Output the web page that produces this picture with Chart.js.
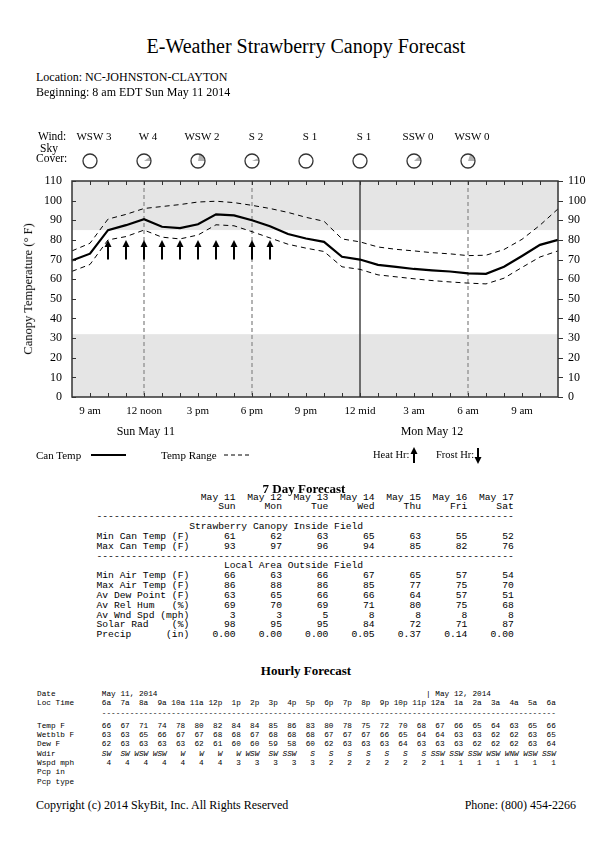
<!DOCTYPE html>
<html>
<head>
<meta charset="utf-8">
<script src="https://cdn.jsdelivr.net/npm/chart.js@4.4.1/dist/chart.umd.min.js"></script>
<style>
  body { margin: 0; background: #fff; }
  #page { position: relative; width: 612px; height: 864px; overflow: hidden; font-family: "Liberation Serif", serif; color: #000; }
  .t { position: absolute; white-space: nowrap; }
  pre { position: absolute; margin: 0; font-family: "Liberation Mono", monospace; color: #000; }
  #chartBox { position: absolute; left: 0; top: 120px; width: 612px; height: 322px; }
</style>
</head>
<body>
<div id="page">
  <div id="chartBox"><canvas id="canopyChart" width="612" height="322"></canvas></div>
  <svg style="position:absolute;left:0;top:440px" width="612" height="30">
    <line x1="91" y1="15" x2="126" y2="15" stroke="#000" stroke-width="2"/>
    <line x1="224" y1="15" x2="249" y2="15" stroke="#000" stroke-width="1" stroke-dasharray="4,3"/>
    <line x1="414" y1="23" x2="414" y2="13" stroke="#000" stroke-width="2"/>
    <polygon points="414,7 410.5,14 417.5,14" fill="#000"/>
    <line x1="478" y1="8" x2="478" y2="18" stroke="#000" stroke-width="2"/>
    <polygon points="478,24 474.5,17 481.5,17" fill="#000"/>
  </svg>
  <pre id="dayTable" style="left:96.5px;top:492.5px;font-size:9.67px;line-height:9.85px"></pre>
  <pre id="hourHead" style="left:37px;top:689.7px;font-size:7.73px;line-height:9.5px"></pre>
  <pre id="hourBody" style="left:37px;top:721.7px;font-size:7.73px;line-height:9.35px"></pre>
</div>
<script>
// canopy chart, hourly from 8 am Sun May 11 to 11 am Mon May 12
const hours = ['8a','9a','10a','11a','12p','1p','2p','3p','4p','5p','6p','7p','8p','9p','10p','11p',
               '12a','1a','2a','3a','4a','5a','6a','7a','8a','9a','10a','11a'];
const xTickText = ['','9 am','','','12 noon','','','3 pm','','','6 pm','','','9 pm','','','12 mid',
                   '','','3 am','','','6 am','','','9 am','',''];
const canTemp = [69.5,73,85,87.5,90.5,86.7,86,88,93,92.5,90,87,83,80.7,79,71.4,70,67.3,66.3,65.2,
                 64.5,63.9,63,62.7,66.3,71.8,77.5,80];
const rangeHi = [74.4,78.3,90.6,93,96,97,98,99.3,99.7,99,97.6,96,94,91.5,89.5,80.5,79,76.4,75.2,74.4,
                 73.5,72.9,72,72.2,75.1,80.3,87.5,95.8];
const rangeLo = [64,67.5,80,81.7,85,81.4,80.5,82.5,87.7,87.2,84.2,81,77.8,75.8,74.1,66.3,65,62.2,61.2,
                 60.2,59.3,58.6,58,57.6,60.5,66,71.3,74.4];
const heatHr  = [0,0,1,1,1,1,1,1,1,1,1,1,0,0,0,0,0,0,0,0,0,0,0,0,0,0,0,0];
const frostHr = [0,0,0,0,0,0,0,0,0,0,0,0,0,0,0,0,0,0,0,0,0,0,0,0,0,0,0,0];
const bands = [[85, 110], [0, 32]];
const dashedHours = [4, 10, 22];
const solidHours = [16];

// wind and sky cover every 3 hours
const windIdx  = [1, 4, 7, 10, 13, 16, 19, 22];
const windText = ['WSW 3','W 4','WSW 2','S 2','S 1','S 1','SSW 0','WSW 0'];
const skyCover = [0, 10, 22, 7, 0, 0, 12, 20];
const dayIdx   = [4.1, 20];
const dayText  = ['Sun May 11', 'Mon May 12'];

// 7 day forecast
const dayDates = ['May 11','May 12','May 13','May 14','May 15','May 16','May 17'];
const dayNames = ['Sun','Mon','Tue','Wed','Thu','Fri','Sat'];
const minCan   = [61,62,63,65,63,55,52];
const maxCan   = [93,97,96,94,85,82,76];
const minAir   = [66,63,66,67,65,57,54];
const maxAir   = [86,88,86,85,77,75,70];
const dewPoint = [63,65,66,66,64,57,51];
const relHum   = [69,70,69,71,80,75,68];
const wndSpd   = [3,3,5,8,8,8,8];
const solarRad = [98,95,95,84,72,71,87];
const precip   = ['0.00','0.00','0.00','0.05','0.37','0.14','0.00'];

// hourly forecast, 6a May 11 to 6a May 12
const hrTimes = ['6a','7a','8a','9a','10a','11a','12p','1p','2p','3p','4p','5p','6p','7p','8p','9p',
                 '10p','11p','12a','1a','2a','3a','4a','5a','6a'];
const hrTemp  = [66,67,71,74,78,80,82,84,84,85,86,83,80,78,75,72,70,68,67,66,65,64,63,65,66];
const hrWet   = [63,63,65,66,67,67,68,68,67,68,68,68,67,67,67,66,65,64,64,63,63,62,62,63,65];
const hrDew   = [62,63,63,63,63,62,61,60,60,59,58,60,62,63,63,63,64,63,63,63,62,62,62,63,64];
const hrWdir  = ['SW','SW','WSW','WSW','W','W','W','W','WSW','SW','SSW','S','S','S','S','S','S','S',
                 'SSW','SSW','SSW','WSW','WNW','WSW','SSW'];
const hrWspd  = [4,4,4,4,4,4,4,3,3,3,3,3,2,2,2,2,2,2,1,1,1,1,1,1,1];

const page = document.getElementById('page');
function txt(s, x, cy, size, align, extra) {
  const d = document.createElement('div');
  d.className = 't';
  d.textContent = s;
  d.style.fontSize = size + 'px';
  d.style.lineHeight = (size * 1.107) + 'px';
  d.style.top = (cy - 0.59 * size) + 'px';
  if (align == 'c') { d.style.left = (x - 200) + 'px'; d.style.width = '400px'; d.style.textAlign = 'center'; }
  else if (align == 'r') { d.style.right = (612 - x) + 'px'; }
  else d.style.left = x + 'px';
  if (extra) Object.assign(d.style, extra);
  page.appendChild(d);
  return d;
}

txt('E-Weather Strawberry Canopy Forecast', 306, 47, 20, 'c');
txt('Location:  NC-JOHNSTON-CLAYTON', 36, 78, 12);
txt('Beginning: 8 am EDT Sun May 11 2014', 36, 93, 12);
txt('Wind:', 38, 137, 11.5);
txt('Sky', 40, 148.5, 11.5);
txt('Cover:', 36, 159, 11.5);
txt('Canopy Temperature (° F)', 29, 289, 12.5, 'c', {transform: 'rotate(-90deg)'});
txt('Can Temp', 36, 455, 11);
txt('Temp Range', 161, 455, 11);
txt('Heat  Hr:', 373, 455, 10.5);
txt('Frost Hr:', 436, 455, 10.5);
txt('7 Day Forecast', 304, 490, 13, 'c', {fontWeight: 'bold'});
txt('Hourly Forecast', 306, 672, 13, 'c', {fontWeight: 'bold'});
txt('Copyright (c) 2014 SkyBit, Inc. All Rights Reserved', 36, 806, 12);
txt('Phone: (800) 454-2266', 576, 806, 12, 'r');

// monospace tables
function row(label, vals, w) { return label.padEnd(16) + vals.map(v => String(v).padStart(w)).join(''); }
const dash72 = '-'.repeat(72);
document.getElementById('dayTable').textContent = [
  row('', dayDates, 8),
  row('', dayNames, 8),
  dash72,
  ' '.repeat(16) + 'Strawberry Canopy Inside Field',
  row('Min Can Temp (F)', minCan, 8),
  row('Max Can Temp (F)', maxCan, 8),
  dash72,
  ' '.repeat(22) + 'Local Area Outside Field',
  row('Min Air Temp (F)', minAir, 8),
  row('Max Air Temp (F)', maxAir, 8),
  row('Av Dew Point (F)', dewPoint, 8),
  row('Av Rel Hum   (%)', relHum, 8),
  row('Av Wnd Spd (mph)', wndSpd, 8),
  row('Solar Rad    (%)', solarRad, 8),
  row('Precip      (in)', precip, 8)
].join('\n');

function hrow(label, vals) { return label.padEnd(12) + vals.map(v => String(v).padStart(4)).join(''); }
document.getElementById('hourHead').textContent = [
  ('Date'.padEnd(14) + 'May 11, 2014').padEnd(84) + '| May 12, 2014',
  hrow('Loc Time', hrTimes),
  ' '.repeat(14) + '-'.repeat(98)
].join('\n');
const hb = document.getElementById('hourBody');
hb.innerHTML = [
  hrow('Temp F', hrTemp),
  hrow('Wetblb F', hrWet),
  hrow('Dew F', hrDew),
  'Wdir'.padEnd(12) + '<i>' + hrWdir.map(v => v.padStart(4)).join('') + '</i>',
  hrow('Wspd mph', hrWspd),
  'Pcp in',
  'Pcp type'
].join('\n');

const serif = '"Liberation Serif", serif';

var chartDecor = {
  id: 'chartDecor',
  beforeDatasetsDraw(chart) {
    const ctx = chart.ctx, a = chart.chartArea, x = chart.scales.x, y = chart.scales.y;
    ctx.save();
    ctx.fillStyle = '#e5e5e5';
    bands.forEach(b => {
      const top = y.getPixelForValue(b[1]), bot = y.getPixelForValue(b[0]);
      ctx.fillRect(a.left, top, a.right - a.left, bot - top);
    });
    ctx.lineWidth = 1.5;
    ctx.strokeStyle = '#9a9a9a';
    ctx.setLineDash([4, 3]);
    dashedHours.forEach(i => {
      const px = x.getPixelForValue(i);
      ctx.beginPath(); ctx.moveTo(px, a.top); ctx.lineTo(px, a.bottom); ctx.stroke();
    });
    ctx.setLineDash([]);
    ctx.strokeStyle = '#444';
    solidHours.forEach(i => {
      const px = x.getPixelForValue(i);
      ctx.beginPath(); ctx.moveTo(px, a.top); ctx.lineTo(px, a.bottom); ctx.stroke();
    });
    ctx.restore();
  },
  afterDatasetsDraw(chart) {
    const ctx = chart.ctx, a = chart.chartArea, x = chart.scales.x, y = chart.scales.y;
    ctx.save();
    // heat / frost arrows
    ctx.fillStyle = '#000'; ctx.strokeStyle = '#000'; ctx.lineWidth = 2;
    const lo = y.getPixelForValue(70), hi = y.getPixelForValue(80);
    hours.forEach((h, i) => {
      const px = x.getPixelForValue(i);
      if (heatHr[i]) {
        ctx.beginPath(); ctx.moveTo(px, lo); ctx.lineTo(px, hi + 6); ctx.stroke();
        ctx.beginPath(); ctx.moveTo(px, hi); ctx.lineTo(px - 3.5, hi + 7); ctx.lineTo(px + 3.5, hi + 7); ctx.fill();
      }
      if (frostHr[i]) {
        ctx.beginPath(); ctx.moveTo(px, hi); ctx.lineTo(px, lo - 6); ctx.stroke();
        ctx.beginPath(); ctx.moveTo(px, lo); ctx.lineTo(px - 3.5, lo - 7); ctx.lineTo(px + 3.5, lo - 7); ctx.fill();
      }
    });
    // frame and tick marks
    ctx.strokeStyle = '#333'; ctx.lineWidth = 1.5;
    ctx.strokeRect(a.left, a.top, a.right - a.left, a.bottom - a.top);
    ctx.lineWidth = 1;
    ctx.beginPath();
    for (let i = 1; i < hours.length - 1; i++) {
      const px = Math.round(x.getPixelForValue(i)) + 0.5;
      ctx.moveTo(px, a.top); ctx.lineTo(px, a.top + 4);
      ctx.moveTo(px, a.bottom); ctx.lineTo(px, a.bottom - 4);
    }
    for (let v = 0; v <= 110; v += 10) {
      const py = Math.round(y.getPixelForValue(v)) + 0.5;
      ctx.moveTo(a.left, py); ctx.lineTo(a.left + 4, py);
      ctx.moveTo(a.right, py); ctx.lineTo(a.right + 5, py);
    }
    ctx.stroke();
    // wind and sky cover rows
    ctx.font = '11px ' + serif;
    ctx.textAlign = 'center'; ctx.textBaseline = 'middle'; ctx.fillStyle = '#000';
    windIdx.forEach((i, k) => {
      const px = x.getPixelForValue(i);
      ctx.fillText(windText[k], px + 4, a.top - 44);
      const cy = a.top - 20;
      if (skyCover[k] > 0) {
        ctx.fillStyle = '#b0b0b0';
        ctx.beginPath(); ctx.moveTo(px, cy);
        ctx.arc(px, cy, 7, -skyCover[k] / 100 * 2 * Math.PI, 0);
        ctx.closePath(); ctx.fill();
        ctx.fillStyle = '#000';
      }
      ctx.lineWidth = 1.3;
      ctx.beginPath(); ctx.arc(px, cy, 7, 0, 2 * Math.PI); ctx.stroke();
    });
    // day labels
    ctx.font = '12px ' + serif;
    dayIdx.forEach((i, k) => ctx.fillText(dayText[k], x.getPixelForValue(i), a.bottom + 35));
    ctx.restore();
  }
};

var ctx = document.getElementById('canopyChart').getContext('2d');
var canopyChart = new Chart(ctx, {
  type: 'line',
  plugins: [chartDecor],
  data: {
    labels: hours,
    datasets: [
      { label: 'Can Temp', data: canTemp, borderColor: '#000', borderWidth: 2.2, pointRadius: 0, tension: 0 },
      { label: 'Temp Range', data: rangeHi, borderColor: '#000', borderWidth: 1, borderDash: [5, 4], pointRadius: 0, tension: 0 },
      { label: 'Temp Range', data: rangeLo, borderColor: '#000', borderWidth: 1, borderDash: [5, 4], pointRadius: 0, tension: 0 }
    ]
  },
  options: {
    responsive: false,
    animation: false,
    layout: { padding: { top: 61, left: 0, right: 0, bottom: 0 } },
    plugins: { legend: { display: false }, tooltip: { enabled: false } },
    scales: {
      x: {
        offset: false,
        grid: { display: false, drawTicks: false },
        border: { display: false },
        ticks: {
          autoSkip: false, maxRotation: 0, padding: 8, color: '#000',
          font: { family: serif, size: 11 },
          callback: (v, i) => xTickText[i]
        },
        afterFit: s => { s.height = 45; }
      },
      y: {
        position: 'left', min: 0, max: 110,
        grid: { display: false, drawTicks: false },
        border: { display: false },
        ticks: { stepSize: 10, padding: 10, color: '#000', font: { family: serif, size: 12 } },
        afterFit: s => { s.width = 72; }
      },
      y2: {
        position: 'right', min: 0, max: 110,
        grid: { display: false, drawTicks: false },
        border: { display: false },
        ticks: { stepSize: 10, padding: 10, color: '#000', font: { family: serif, size: 12 } },
        afterFit: s => { s.width = 54; }
      }
    }
  }
});
</script>
</body>
</html>
